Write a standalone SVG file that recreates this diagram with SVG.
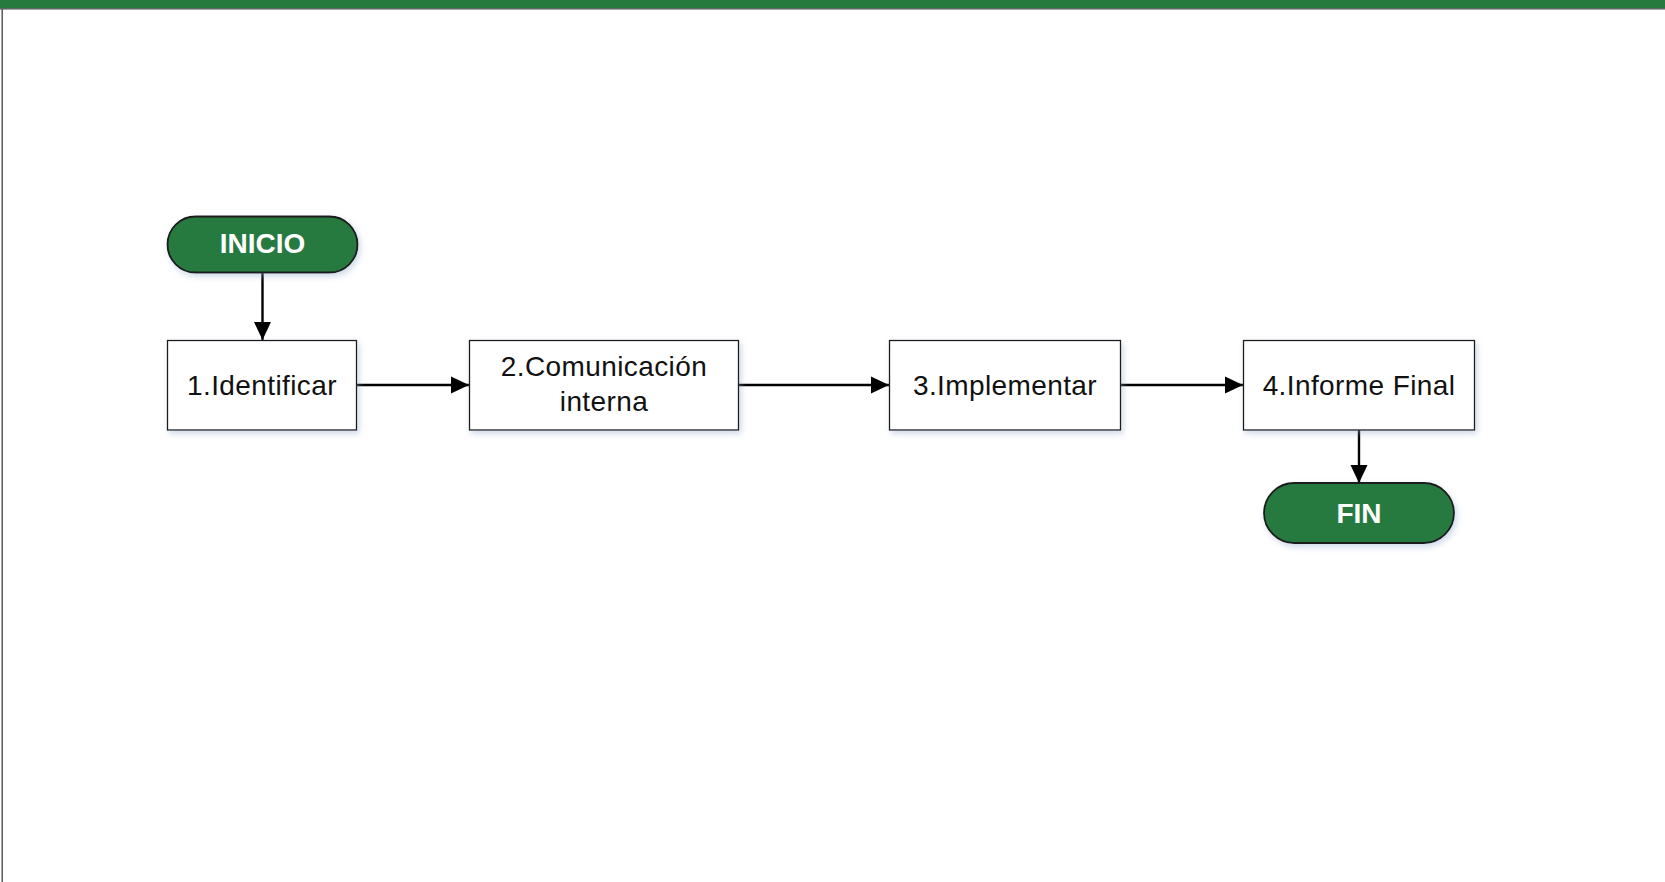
<svg xmlns="http://www.w3.org/2000/svg" width="1665" height="882" viewBox="0 0 1665 882">
<style>
.box{fill:#ffffff;stroke:#1a1a1a;stroke-width:1.3;filter:url(#sh)}
.term{fill:#287a40;stroke:#1a1a1a;stroke-width:1.8;filter:url(#sh)}
.lbl{font-family:"Liberation Sans",Arial,sans-serif;font-size:28px;fill:#111111;text-anchor:middle;letter-spacing:0.4px}
.tlbl{font-family:"Liberation Sans",Arial,sans-serif;font-size:28px;font-weight:bold;fill:#ffffff;text-anchor:middle}
.conn{stroke:#000000;stroke-width:2.4;fill:none;marker-end:url(#ah)}
</style>
<defs>
<filter id="sh" x="-10%" y="-20%" width="125%" height="150%">
<feDropShadow dx="2" dy="3" stdDeviation="3" flood-color="#8fa9cc" flood-opacity="0.45"/>
</filter>
<marker id="ah" markerWidth="18" markerHeight="18" viewBox="0 0 18 18" refX="18" refY="9" orient="auto" markerUnits="userSpaceOnUse">
<path d="M0,0.5 L18,9 L0,17.5 Z" fill="#000000"/>
</marker>
</defs>
<rect x="0" y="0" width="1665" height="8.5" fill="#277a3e"/>
<line x1="0" y1="8.8" x2="1665" y2="8.8" stroke="#4a4f4d" stroke-width="1.2"/>
<line x1="2.2" y1="9" x2="2.2" y2="882" stroke="#4a4f4d" stroke-width="1.4"/>
<g id="connectors">
<line class="conn" x1="262.5" y1="273" x2="262.5" y2="340"/>
<line class="conn" x1="356.5" y1="385" x2="469" y2="385"/>
<line class="conn" x1="738.5" y1="385" x2="889" y2="385"/>
<line class="conn" x1="1121" y1="385" x2="1243" y2="385"/>
<line class="conn" x1="1359" y1="430" x2="1359" y2="483"/>
</g>
<g id="inicio">
<rect class="term" x="167.5" y="216.5" width="190" height="56" rx="28" ry="28"/>
<text class="tlbl" x="262.5" y="253">INICIO</text>
</g>
<g id="n1">
<rect class="box" x="167.5" y="340.5" width="189" height="89.5"/>
<text class="lbl" x="262" y="395">1.Identificar</text>
</g>
<g id="n2">
<rect class="box" x="469.5" y="340.5" width="269" height="89.5"/>
<text class="lbl" x="604" y="376">2.Comunicación</text>
<text class="lbl" x="604" y="411">interna</text>
</g>
<g id="n3">
<rect class="box" x="889.5" y="340.5" width="231" height="89.5"/>
<text class="lbl" x="1005" y="395">3.Implementar</text>
</g>
<g id="n4">
<rect class="box" x="1243.5" y="340.5" width="231" height="89.5"/>
<text class="lbl" x="1359" y="395">4.Informe Final</text>
</g>
<g id="fin">
<rect class="term" x="1264" y="483" width="190" height="60" rx="30" ry="30"/>
<text class="tlbl" x="1359" y="523">FIN</text>
</g>
</svg>
